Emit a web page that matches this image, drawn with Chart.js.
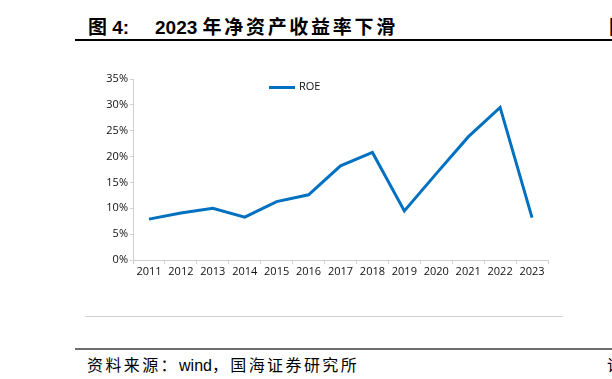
<!DOCTYPE html>
<html>
<head>
<meta charset="utf-8">
<script src="https://cdn.jsdelivr.net/npm/chart.js@4.4.0/dist/chart.umd.min.js"></script>
<style>
  html, body { margin: 0; padding: 0; background: #fff; }
  body { width: 612px; height: 379px; position: relative; overflow: hidden; }
  .title { position: absolute; left: 88px; top: 12px; font: bold 19px "Liberation Sans", "Noto Sans CJK SC", sans-serif; color: #000; white-space: nowrap; }
  .title .num { position: absolute; left: 67px; top: 0; }
  .title .cjk { letter-spacing: 2.7px; }
  .edge { position: absolute; left: 609px; font-family: "Noto Sans CJK SC", sans-serif; font-weight: bold; color: #000; white-space: nowrap; }
  .rule-top { position: absolute; left: 75px; top: 39px; width: 537px; height: 1.5px; background: #000; }
  .rule-gray { position: absolute; left: 85px; top: 316px; width: 478px; height: 1px; background: #d0d0d0; }
  .rule-bottom { position: absolute; left: 75px; top: 348px; width: 537px; height: 2px; background: #6e6e6e; }
  .source { position: absolute; left: 87px; top: 352px; font: 16px "Noto Sans CJK SC", sans-serif; color: #000; white-space: nowrap; letter-spacing: 2.4px; }
  .source .en { font-family: "Liberation Sans", sans-serif; letter-spacing: 0; }
  #wrap { position: absolute; left: 90px; top: 65px; width: 470px; height: 225px; }
  .legend { position: absolute; left: 269px; top: 78px; font: 11px "Open Sans", sans-serif; color: #111; white-space: nowrap; }
  .legend .swatch { display: inline-block; width: 26px; height: 3px; background: #0070c0; vertical-align: middle; margin-right: 4px; }
</style>
</head>
<body>
<div class="title">图 4:<span class="num">2023 <span class="cjk">年净资产收益率下滑</span></span></div>
<div class="edge" style="top:12px;font-size:19px;">国</div>
<div class="rule-top"></div>
<div id="wrap"><canvas id="roeChart"></canvas></div>
<div class="legend"><span class="swatch"></span>ROE</div>
<div class="rule-gray"></div>
<div class="rule-bottom"></div>
<div class="source">资料来源：<span class="en">wind</span>，国海证券研究所</div>
<div class="edge" style="top:352px;font-size:16px;font-weight:normal;left:607px;">请</div>
<script>
const years = ['2011', '2012', '2013', '2014', '2015', '2016', '2017', '2018', '2019', '2020', '2021', '2022', '2023'];
const roeValues = [7.9, 9.1, 10.0, 8.3, 11.3, 12.6, 18.2, 20.8, 9.5, 16.7, 23.8, 29.5, 8.2];
const yMin = 0;
const yMax = 35;
const yStep = 5;

const tickFont = { family: '"Open Sans", sans-serif', size: 11 };

var ctx = document.getElementById('roeChart').getContext('2d');
var roeChart = new Chart(ctx, {
    type: 'line',
    data: {
        labels: years,
        datasets: [{
            label: 'ROE',
            data: roeValues,
            borderColor: '#0070c0',
            backgroundColor: '#0070c0',
            borderWidth: 3,
            pointRadius: 0,
            tension: 0
        }]
    },
    options: {
        responsive: true,
        maintainAspectRatio: false,
        animation: false,
        layout: { padding: { top: 14, right: 12, left: 0, bottom: 0 } },
        plugins: {
            legend: { display: false },
            tooltip: { enabled: false }
        },
        scales: {
            x: {
                offset: true,
                grid: {
                    display: true,
                    offset: true,
                    drawOnChartArea: false,
                    drawTicks: true,
                    tickLength: 4,
                    color: '#d0d0d0'
                },
                border: { display: true, color: '#d0d0d0' },
                ticks: { color: '#111', font: tickFont, maxRotation: 0, autoSkip: false, padding: 1 },
                afterFit: function (scale) { scale.height = 30; }
            },
            y: {
                min: yMin,
                max: yMax,
                grid: {
                    display: true,
                    drawOnChartArea: false,
                    drawTicks: true,
                    tickLength: 3,
                    color: '#d0d0d0'
                },
                border: { display: true, color: '#d0d0d0' },
                ticks: {
                    stepSize: yStep,
                    color: '#111',
                    font: tickFont,
                    padding: 2,
                    callback: function (v) { return v + '%'; }
                },
                afterFit: function (scale) { scale.width = 43; }
            }
        }
    }
});
</script>
</body>
</html>
